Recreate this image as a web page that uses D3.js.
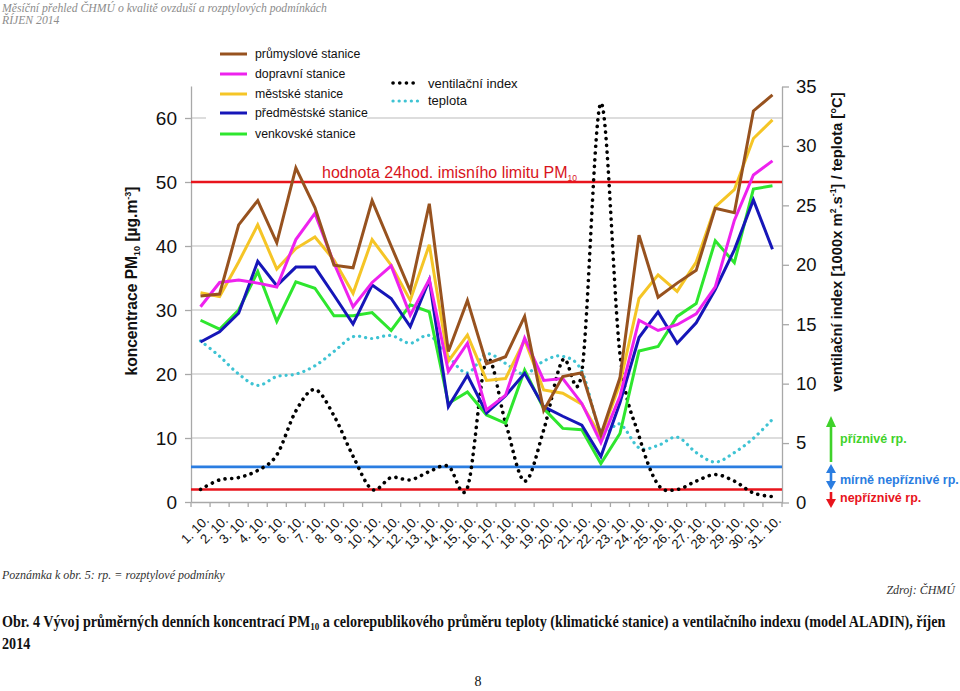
<!DOCTYPE html>
<html><head><meta charset="utf-8">
<script src="https://cdn.jsdelivr.net/npm/d3@7"></script>
<style>body{margin:0;background:#fff}svg{display:block;font-family:Arial,"Liberation Sans",sans-serif}</style>
</head><body><svg id="c" width="960" height="691"></svg>
<script>
const days = d3.range(1, 32).map(d => d + ". 10.");
const prumyslove = [32.2,32.5,43.3,47.1,40.5,52.2,46.0,37.0,36.6,47.1,40.0,33.0,46.6,23.5,31.5,21.6,22.7,29.0,14.3,19.6,20.2,10.5,19.4,41.7,32.0,34.2,36.2,45.9,45.2,61.1,63.6];
const dopravni   = [30.5,34.3,34.7,34.2,33.6,41.0,45.1,37.3,30.5,34.3,36.9,29.2,34.8,20.4,24.8,14.4,16.7,25.6,19.0,19.3,15.4,9.3,16.5,28.4,26.8,27.7,29.4,33.6,44.0,51.1,53.3];
const mestske    = [32.7,32.1,37.5,43.3,36.4,39.6,41.4,37.8,32.6,41.0,37.0,31.5,40.2,22.0,26.1,19.0,19.3,25.3,17.5,17.0,15.3,10.2,18.5,31.8,35.5,32.9,37.5,46.1,48.8,56.8,59.7];
const predmestske= [25.0,26.6,29.5,37.6,33.8,36.7,36.7,32.3,27.8,33.9,31.8,27.4,34.7,14.9,19.8,13.9,16.6,20.1,14.9,13.4,12.0,7.1,15.5,25.7,29.7,24.8,28.0,33.2,39.4,47.2,39.5];
const venkovske  = [28.4,27.0,30.0,36.0,28.2,34.4,33.4,29.1,29.1,29.6,26.8,30.8,29.7,15.4,17.2,13.6,12.3,20.6,14.6,11.5,11.3,6.0,10.7,23.6,24.3,29.0,31.0,40.8,37.4,48.9,49.4];
const teplota    = [13.6,12.3,10.8,9.85,10.6,10.8,11.5,12.7,13.95,13.8,14.05,13.4,14.05,12.3,10.9,12.5,11.7,10.8,11.9,12.3,11.05,6.0,6.6,4.6,4.8,5.5,4.2,3.4,4.2,5.4,7.0];
const ventilace  = [1.1,1.9,2.1,2.7,4.0,7.7,9.5,7.3,3.9,1.1,2.1,1.9,2.6,3.05,1.25,12.0,6.7,1.8,6.1,12.0,11.0,33.6,12.5,5.6,1.5,1.1,1.8,2.35,1.8,0.8,0.5];
const leftTicks = [0,10,20,30,40,50,60];
const rightTicks = [0,5,10,15,20,25,30,35];
const limitPM = 50;
const thrUnfav = 1.1, thrMild = 3;
const pmSeries = [
  {name:"průmyslové stanice", values:prumyslove, color:"#97521f"},
  {name:"dopravní stanice", values:dopravni, color:"#ee22ee"},
  {name:"městské stanice", values:mestske, color:"#f5c526"},
  {name:"předměstské stanice", values:predmestske, color:"#1616b8"},
  {name:"venkovské stanice", values:venkovske, color:"#2ee62e"}
];

const svg = d3.select("#c");
const x = d3.scaleBand().domain(days).range([191, 782]);
const yL = d3.scaleLinear().domain([0, 65]).range([502, 86]);
const yR = d3.scaleLinear().domain([0, 35]).range([502.5, 86.5]);
const cx = d => x(d) + x.bandwidth()/2;
const gray = "#a8a8a8";
const serif = "'Liberation Serif','DejaVu Serif',serif";

// header
svg.append("text").attr("x",2).attr("y",12).attr("font-family",serif).attr("font-style","italic").attr("font-size",11.7).attr("fill","#8c8c8c").text("Měsíční přehled ČHMÚ o kvalitě ovzduší a rozptylových podmínkách");
svg.append("text").attr("x",2).attr("y",24).attr("font-family",serif).attr("font-style","italic").attr("font-size",11.7).attr("fill","#8c8c8c").text("ŘÍJEN 2014");

// gridlines
svg.append("g").selectAll("line").data(leftTicks.filter(d=>d>0)).join("line")
  .attr("x1",191).attr("x2",782).attr("y1",d=>yL(d)).attr("y2",d=>yL(d)).attr("stroke","#bcbcbc").attr("stroke-width",1.2);

// legend background (covers gridline)
svg.append("rect").attr("x",206).attr("y",42).attr("width",161).attr("height",103).attr("fill","#fff");

// axes
const gL = svg.append("g").attr("transform","translate(191,0)").call(d3.axisLeft(yL).tickValues(leftTicks).tickSize(6).tickSizeOuter(0).tickPadding(8));
gL.selectAll("text").attr("font-size",19).attr("fill","#111");
const gR = svg.append("g").attr("transform","translate(782,0)").call(d3.axisRight(yR).tickValues(rightTicks).tickSize(7).tickSizeOuter(0).tickPadding(7));
gR.selectAll("text").attr("font-size",18.5).attr("fill","#111");
[gL,gR].forEach(g=>{g.select(".domain").attr("stroke",gray).attr("stroke-width",1.3);g.selectAll(".tick line").attr("stroke",gray).attr("stroke-width",1.3);});

const gX = svg.append("g").attr("transform","translate(0,502)").call(d3.axisBottom(x).tickSize(0).tickSizeOuter(0).tickPadding(0));
gX.select(".domain").attr("stroke",gray).attr("stroke-width",1.3);
gX.selectAll(".tick text").attr("font-size",13.2).attr("fill","#111")
  .attr("text-anchor","end").attr("transform","translate(6,16) rotate(-45)").attr("dy","0.35em").attr("y",0);
svg.append("g").selectAll("line").data(days.map(d=>x(d)).concat([x.range()[1]])).join("line")
  .attr("x1",d=>d).attr("x2",d=>d).attr("y1",502).attr("y2",507).attr("stroke",gray).attr("stroke-width",1.3);

// threshold lines
svg.append("line").attr("x1",191).attr("x2",782).attr("y1",yL(limitPM)).attr("y2",yL(limitPM)).attr("stroke","#e8141c").attr("stroke-width",2.6);
svg.append("line").attr("x1",191).attr("x2",782).attr("y1",yR(thrMild)).attr("y2",yR(thrMild)).attr("stroke","#2a7de1").attr("stroke-width",2.6);
svg.append("line").attr("x1",191).attr("x2",782).attr("y1",yR(thrUnfav)).attr("y2",yR(thrUnfav)).attr("stroke","#e8141c").attr("stroke-width",2.6);

// dotted series
const smooth = d3.line().x((d,i)=>cx(days[i])).y(d=>yR(d)).curve(d3.curveCardinal.tension(0));
svg.append("path").attr("d",smooth(teplota)).attr("fill","none").attr("stroke","#3ec3d3").attr("stroke-width",3.2).attr("stroke-linecap","round").attr("stroke-dasharray","0.1 6");
svg.append("path").attr("d",smooth(ventilace)).attr("fill","none").attr("stroke","#000").attr("stroke-width",3.6).attr("stroke-linecap","round").attr("stroke-dasharray","0.1 6.6");

// PM lines
const ln = d3.line().x((d,i)=>cx(days[i])).y(d=>yL(d));
pmSeries.slice().reverse().forEach(s=>{
  svg.append("path").attr("d",ln(s.values)).attr("fill","none").attr("stroke",s.color).attr("stroke-width",3).attr("stroke-linejoin","miter");
});

// legend
const legY = [54,74,94,113,134];
pmSeries.forEach((s,i)=>{
  svg.append("line").attr("x1",220).attr("x2",247).attr("y1",legY[i]).attr("y2",legY[i]).attr("stroke",s.color).attr("stroke-width",3);
  svg.append("text").attr("x",255).attr("y",legY[i]).attr("dy","0.35em").attr("font-size",12.3).attr("fill","#111").text(s.name);
});
svg.append("line").attr("x1",393).attr("x2",418).attr("y1",83).attr("y2",83).attr("stroke","#000").attr("stroke-width",3.6).attr("stroke-linecap","round").attr("stroke-dasharray","0.1 6.6");
svg.append("line").attr("x1",393).attr("x2",419).attr("y1",101).attr("y2",101).attr("stroke","#3ec3d3").attr("stroke-width",3.2).attr("stroke-linecap","round").attr("stroke-dasharray","0.1 6");
svg.append("text").attr("x",428).attr("y",83).attr("dy","0.35em").attr("font-size",13).attr("fill","#111").text("ventilační index");
svg.append("text").attr("x",428).attr("y",100).attr("dy","0.35em").attr("font-size",13).attr("fill","#111").text("teplota");

// limit label
const lim = svg.append("text").attr("x",322).attr("y",178).attr("font-size",16).attr("fill","#d8141c");
lim.append("tspan").text("hodnota 24hod. imisního limitu PM");
lim.append("tspan").attr("font-size",8.5).attr("dy",3).text("10");

// axis titles
const tl = svg.append("text").attr("transform","translate(137,281) rotate(-90)").attr("text-anchor","middle").attr("font-size",15.6).attr("font-weight","bold").attr("fill","#111");
tl.append("tspan").text("koncentrace PM");
tl.append("tspan").attr("font-size",9).attr("dy",3).text("10");
tl.append("tspan").attr("dy",-3).text(" [µg.m");
tl.append("tspan").attr("font-size",9).attr("dy",-6).text("-3");
tl.append("tspan").attr("dy",6).text("]");

const tr = svg.append("text").attr("transform","translate(842,242) rotate(-90)").attr("text-anchor","middle").attr("font-size",14.8).attr("font-weight","bold").attr("fill","#111");
tr.append("tspan").text("ventilační index [1000x m");
tr.append("tspan").attr("font-size",8.5).attr("dy",-6).text("2");
tr.append("tspan").attr("dy",6).text(".s");
tr.append("tspan").attr("font-size",8.5).attr("dy",-6).text("-1");
tr.append("tspan").attr("dy",6).text("] / teplota [°C]");

// right side legend (arrows)
const ax = 831;
svg.append("line").attr("x1",ax).attr("x2",ax).attr("y1",462).attr("y2",426).attr("stroke","#3fd22a").attr("stroke-width",2.6);
svg.append("path").attr("d",`M${ax-5},427 L${ax},416 L${ax+5},427 Z`).attr("fill","#3fd22a");
svg.append("line").attr("x1",ax).attr("x2",ax).attr("y1",471).attr("y2",483).attr("stroke","#2a7de1").attr("stroke-width",2.6);
svg.append("path").attr("d",`M${ax-5},473 L${ax},464 L${ax+5},473 Z M${ax-5},481 L${ax},490 L${ax+5},481 Z`).attr("fill","#2a7de1");
svg.append("line").attr("x1",ax).attr("x2",ax).attr("y1",492).attr("y2",500).attr("stroke","#e8141c").attr("stroke-width",2.6);
svg.append("path").attr("d",`M${ax-5},499 L${ax},508 L${ax+5},499 Z`).attr("fill","#e8141c");
svg.append("text").attr("x",840).attr("y",439).attr("dy","0.35em").attr("font-size",12.5).attr("font-weight","bold").attr("fill","#3fd22a").text("příznivé rp.");
svg.append("text").attr("x",840).attr("y",480).attr("dy","0.35em").attr("font-size",12.5).attr("font-weight","bold").attr("fill","#2a7de1").text("mírně nepříznivé rp.");
svg.append("text").attr("x",840).attr("y",498).attr("dy","0.35em").attr("font-size",12.5).attr("font-weight","bold").attr("fill","#e8141c").text("nepříznivé rp.");

// notes and caption
svg.append("text").attr("x",2).attr("y",579).attr("font-family",serif).attr("font-style","italic").attr("font-size",12).attr("fill","#333").text("Poznámka k obr. 5: rp. = rozptylové podmínky");
svg.append("text").attr("x",955).attr("y",594).attr("text-anchor","end").attr("font-family",serif).attr("font-style","italic").attr("font-size",12).attr("fill","#333").text("Zdroj: ČHMÚ");
const cap = svg.append("text").attr("font-family",serif).attr("font-weight","bold").attr("font-size",16.5).attr("fill","#111");
cap.append("tspan").text("Obr. 4 Vývoj průměrných denních koncentrací PM");
cap.append("tspan").attr("font-size",10.5).attr("dy",3).text("10");
cap.append("tspan").attr("dy",-3).text(" a celorepublikového průměru teploty (klimatické stanice) a ventilačního indexu (model ALADIN), říjen");
const w = cap.node().getBBox().width;
cap.attr("transform",`translate(2,627) scale(${Math.min(1,944/w)},1)`);
const cap2 = svg.append("text").attr("font-family",serif).attr("font-weight","bold").attr("font-size",16.5).attr("fill","#111").text("2014");
cap2.attr("transform",`translate(2,649) scale(${Math.min(1,944/w)},1)`);
svg.append("text").attr("x",478).attr("y",686).attr("text-anchor","middle").attr("font-family",serif).attr("font-size",14).attr("fill","#111").text("8");
</script></body></html>
